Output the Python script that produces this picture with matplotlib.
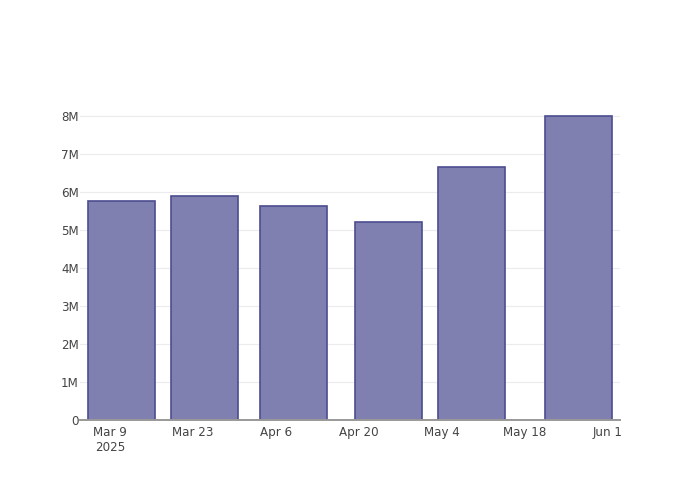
import matplotlib
matplotlib.use("Agg")
import matplotlib.pyplot as plt
import matplotlib.dates as mdates
import numpy as np
import pandas as pd

dates = ["2025-03-11", "2025-03-25", "2025-04-09", "2025-04-25", "2025-05-09", "2025-05-27"]
values = [5.76e6, 5.89e6, 5.63e6, 5.22e6, 6.66e6, 8.0e6]
tick_dates = ["2025-03-09", "2025-03-23", "2025-04-06", "2025-04-20", "2025-05-04", "2025-05-18", "2025-06-01"]
tick_labels = ["Mar 9\n2025", "Mar 23", "Apr 6", "Apr 20", "May 4", "May 18", "Jun 1"]
y_ticks = [0, 1e6, 2e6, 3e6, 4e6, 5e6, 6e6, 7e6, 8e6]
y_labels = ["0", "1M", "2M", "3M", "4M", "5M", "6M", "7M", "8M"]

plt.rcParams['font.family'] = ['DejaVu Sans']

fig = plt.figure(figsize=(7, 5), dpi=100)
ax = fig.add_axes([80/700, 80/500, 540/700, 320/500])

x = mdates.date2num(pd.to_datetime(dates))
width_days = 11.3
ax.bar(x, values, width=width_days, color='#7f7fb0', edgecolor='#4d4d90', linewidth=1.2, zorder=3)

ax.set_xlim(mdates.date2num(pd.Timestamp("2025-03-03 23:00")), mdates.date2num(pd.Timestamp("2025-06-03 02:00")))
ax.set_ylim(0, 8.42e6)

ax.set_xticks(mdates.date2num(pd.to_datetime(tick_dates)))
ax.set_xticklabels(tick_labels, fontsize=8.6, color='#444444', linespacing=1.25)
ax.set_yticks(y_ticks)
ax.set_yticklabels(y_labels, fontsize=8.6, color='#444444')
ax.tick_params(axis='both', length=0)
ax.tick_params(axis='x', pad=4)
ax.tick_params(axis='y', pad=1)

ax.grid(axis='y', color='#ececec', linewidth=0.8, zorder=0)
for s in ['top', 'right', 'left']:
    ax.spines[s].set_visible(False)
ax.spines['bottom'].set_color('#999999')
ax.spines['bottom'].set_linewidth(1.4)
ax.spines['bottom'].set_zorder(4)

fig.savefig("out.png", dpi=100)
